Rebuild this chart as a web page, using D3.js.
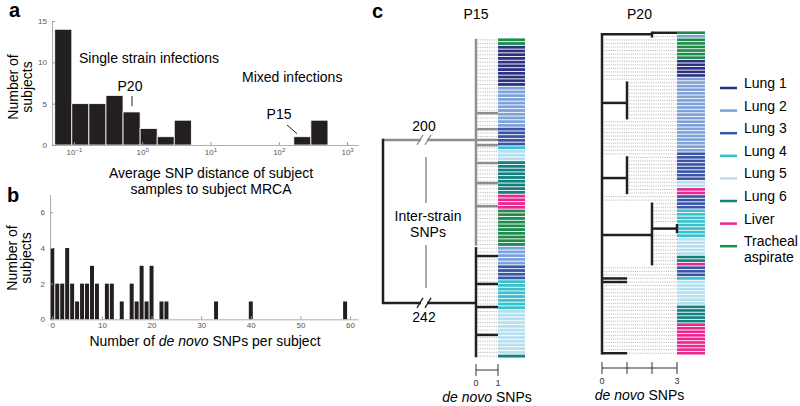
<!DOCTYPE html>
<html>
<head>
<meta charset="utf-8">
<script src="https://cdn.jsdelivr.net/npm/d3@7"></script>
<style>
  body { margin: 0; background: #fff; }
  svg text { font-family: "Liberation Sans", Arial, sans-serif; }
</style>
</head>
<body>
<svg id="fig" width="800" height="406"></svg>
<script>
// a: average SNP distance to MRCA (bins given as log10 lower edge, 0.25 decade wide)
const distBinStart = [-1.28, -1.03, -0.78, -0.53, -0.28, -0.03, 0.22, 0.47, 2.22, 2.47];
const distCounts = [14, 5, 5, 6, 4, 2, 1, 3, 1, 3];
const distTicks = [0.1, 1, 10, 100, 1000];
const p20Dist = 0.71;
const p15Dist = 185;

// b: de novo SNPs per subject
const snpValues = [0, 1, 2, 3, 4, 5, 6, 7, 8, 9, 11, 12, 14, 16, 17, 18, 19, 20, 22, 23, 33, 40, 59];
const snpCounts = [4, 2, 2, 4, 2, 1, 2, 2, 3, 2, 2, 2, 1, 2, 1, 3, 1, 3, 1, 1, 1, 1, 1];
const snpTicks = [0, 10, 20, 30, 40, 50, 60];

// c: tissues
const tissues = ['Lung 1', 'Lung 2', 'Lung 3', 'Lung 4', 'Lung 5', 'Lung 6', 'Liver', 'Tracheal aspirate'];
const tissueColors = ['#2e3180', '#7fa1da', '#3a55a8', '#38c0cc', '#b6e0ed', '#13807f', '#ec268f', '#1f8b4e'];

// P15 samples, run-length coded: tissue index and number of samples
const p15Tissue = [7, 0, 1, 2, 3, 4, 5, 6, 7, 1, 2, 3, 4, 5];
const p15Count = [2, 11, 11, 5, 1, 3, 9, 4, 10, 5, 4, 8, 12, 1];
const p15Strains = [[0, 55], [56, 85]];      // first and last sample row of each strain
const p15StrainSNPs = [200, 242];
const p15StrainJoin = [27.4, 71.2];
const p15Nodes = [[20.2, 24.5, 27.4, 28.8, 33.6, 39, 45.2], [58.6, 66.1, 72.3, 79.8]];

// P20 samples
const p20Tissue = [7, 1, 7, 0, 1, 2, 4, 6, 2, 3, 4, 5, 6, 2, 3, 4, 5, 6];
const p20Count = [1, 1, 6, 5, 21, 8, 2, 2, 4, 8, 5, 2, 1, 3, 1, 7, 5, 9];
const p20Clades = [[0, 1, 0.9, 2], [14, 24, 20.2, 1], [35, 45, 41.3, 1], [48, 65, 57.3, 2]]; // first, last, join, SNPs
const p20SubClades = [[54, 56, 3]];
const p20Singles = [[0, 3], [69, 1], [70, 1], [90, 1]]; // row, SNPs

const svg = d3.select('#fig');
const ink = '#231f20';
const grey = '#8e8e8e';

function styleAxis(g) {
  g.select('.domain').attr('stroke', '#9a9a9a').attr('stroke-width', 0.8);
  g.selectAll('.tick line').attr('stroke', '#9a9a9a');
  g.selectAll('.tick text').attr('fill', '#555').attr('font-size', 8)
    .attr('font-family', '"Liberation Sans", Arial, sans-serif');
}

// ---------- panel a
const xA = d3.scaleLog().domain([10 ** -1.32, 10 ** 3.16]).range([52, 358]);
const yA = d3.scaleLinear().domain([0, 15]).range([145, 21]);
const gA = svg.append('g');

gA.selectAll('rect').data(distBinStart).join('rect')
  .attr('x', d => xA(10 ** d))
  .attr('width', d => xA(10 ** (d + 0.25)) - xA(10 ** d))
  .attr('y', (d, i) => yA(distCounts[i]))
  .attr('height', (d, i) => yA(0) - yA(distCounts[i]))
  .attr('fill', ink).attr('stroke', '#fff').attr('stroke-width', 0.8);

const axA = gA.append('g').attr('transform', `translate(0,${yA(0)})`)
  .call(d3.axisBottom(xA).tickValues(distTicks).tickSize(-3).tickSizeOuter(0).tickPadding(4).tickFormat(() => ''));
styleAxis(axA);
axA.selectAll('.tick text').each(function (d) {
  const t = d3.select(this);
  t.append('tspan').text('10');
  t.append('tspan').attr('dy', '-0.45em').attr('font-size', 6)
    .text(String(Math.round(Math.log10(d))).replace('-', '\u2212'));
});
const ayA = gA.append('g').attr('transform', `translate(${xA.range()[0]},0)`)
  .call(d3.axisLeft(yA).tickValues([0, 5, 10, 15]).tickSize(-3).tickSizeOuter(0).tickPadding(5).tickFormat(d3.format('d')));
styleAxis(ayA);

gA.append('text').attr('x', 79).attr('y', 63).attr('font-size', 14).text('Single strain infections');
gA.append('text').attr('x', 242).attr('y', 82).attr('font-size', 14).text('Mixed infections');
gA.append('text').attr('x', xA(p20Dist) - 2).attr('y', 91).attr('text-anchor', 'middle').attr('font-size', 14).text('P20');
gA.append('line').attr('x1', xA(p20Dist)).attr('x2', xA(p20Dist)).attr('y1', 96).attr('y2', 106)
  .attr('stroke', ink).attr('stroke-width', 1);
gA.append('text').attr('x', xA(p15Dist) - 18).attr('y', 119).attr('text-anchor', 'middle').attr('font-size', 14).text('P15');
gA.append('line').attr('x1', xA(p15Dist) - 10).attr('x2', xA(p15Dist)).attr('y1', 125).attr('y2', yA(1) - 3)
  .attr('stroke', ink).attr('stroke-width', 1);

gA.append('text').attr('transform', 'translate(18,87) rotate(-90)').attr('text-anchor', 'middle')
  .attr('font-size', 14).text('Number of');
gA.append('text').attr('transform', 'translate(32,87) rotate(-90)').attr('text-anchor', 'middle')
  .attr('font-size', 14).text('subjects');
gA.append('text').attr('x', 211).attr('y', 178).attr('text-anchor', 'middle').attr('font-size', 14)
  .text('Average SNP distance of subject');
gA.append('text').attr('x', 211).attr('y', 194).attr('text-anchor', 'middle').attr('font-size', 14)
  .text('samples to subject MRCA');
svg.append('text').attr('x', 9).attr('y', 17).attr('font-size', 20).attr('font-weight', 'bold').text('a');

// ---------- panel b
const xB = d3.scaleLinear().domain([-0.46, 61.6]).range([50, 358]);
const yB = d3.scaleLinear().domain([0, 7]).range([319.3, 194.5]);
const gB = svg.append('g');
const bw = xB(0.4) - xB(0);

gB.selectAll('rect').data(snpValues).join('rect')
  .attr('x', d => xB(d) - bw).attr('width', 2 * bw)
  .attr('y', (d, i) => yB(snpCounts[i]))
  .attr('height', (d, i) => yB(0) - yB(snpCounts[i]))
  .attr('fill', ink);

const axB = gB.append('g').attr('transform', `translate(0,${yB(0)})`)
  .call(d3.axisBottom(xB).tickValues(snpTicks).tickSize(-3).tickSizeOuter(0).tickPadding(3).tickFormat(d3.format('d')));
styleAxis(axB);
const ayB = gB.append('g').attr('transform', `translate(${xB.range()[0]},0)`)
  .call(d3.axisLeft(yB).tickValues([0, 2, 4, 6]).tickSize(-3).tickSizeOuter(0).tickPadding(5).tickFormat(d3.format('d')));
styleAxis(ayB);

gB.append('text').attr('transform', 'translate(17,258) rotate(-90)').attr('text-anchor', 'middle')
  .attr('font-size', 14).text('Number of');
gB.append('text').attr('transform', 'translate(31,258) rotate(-90)').attr('text-anchor', 'middle')
  .attr('font-size', 14).text('subjects');
const xlabB = gB.append('text').attr('x', 205).attr('y', 346).attr('text-anchor', 'middle').attr('font-size', 14);
xlabB.append('tspan').text('Number of ');
xlabB.append('tspan').attr('font-style', 'italic').text('de novo');
xlabB.append('tspan').text(' SNPs per subject');
svg.append('text').attr('x', 7).attr('y', 202).attr('font-size', 20).attr('font-weight', 'bold').text('b');

// ---------- panel c
const gC = svg.append('g');
svg.append('text').attr('x', 372).attr('y', 18).attr('font-size', 20).attr('font-weight', 'bold').text('c');

function drawStrip(rows, y, x0, w) {
  gC.append('g').selectAll('rect').data(rows).join('rect')
    .attr('x', x0).attr('width', w)
    .attr('y', (d, i) => y(i) + 0.4)
    .attr('height', y(1) - y(0) - 0.9)
    .attr('fill', d => tissueColors[d]);
}
function dotted(x1, x2, y) {
  gC.append('line').attr('x1', x1).attr('x2', x2).attr('y1', y).attr('y2', y)
    .attr('stroke', '#a0a0a0').attr('stroke-width', 0.8).attr('stroke-dasharray', '1 1.2');
}
function seg(x1, y1, x2, y2, color, w) {
  gC.append('line').attr('x1', x1).attr('x2', x2).attr('y1', y1).attr('y2', y2)
    .attr('stroke', color).attr('stroke-width', w);
}
function scaleBar(x, ticks, labels, y) {
  seg(x(ticks[0]), y, x(ticks[ticks.length - 1]), y, '#333', 1);
  ticks.forEach(t => seg(x(t), y - 6, x(t), y + 6, '#333', 1));
  labels.forEach(t => gC.append('text').attr('x', x(t)).attr('y', y + 16).attr('text-anchor', 'middle')
    .attr('font-size', 9).attr('fill', '#333').text(t));
  const lab = gC.append('text').attr('x', (x(ticks[0]) + x(ticks[ticks.length - 1])) / 2)
    .attr('y', y + 32).attr('text-anchor', 'middle').attr('font-size', 14);
  lab.append('tspan').attr('font-style', 'italic').text('de novo');
  lab.append('tspan').text(' SNPs');
}

// P15
const p15Rows = p15Tissue.flatMap((t, i) => d3.range(p15Count[i]).map(() => t));
const yP15 = d3.scaleLinear().domain([0, p15Rows.length]).range([38, 358]);
const xP15 = d3.scaleLinear().domain([0, 1]).range([476, 498]);
const p15RootX = 383, p15BreakX = 424;
const strainColor = [grey, ink];

p15Rows.forEach((d, i) => dotted(xP15(0), xP15(1), yP15(i + 0.5)));
drawStrip(p15Rows, yP15, xP15(1), 27);

p15Strains.forEach(([a, b], s) => {
  seg(xP15(0), yP15(a + 0.2), xP15(0), yP15(b + 0.8), strainColor[s], 2.5);
  p15Nodes[s].forEach(r => seg(xP15(0), yP15(r), xP15(1), yP15(r), strainColor[s], 2.5));
  const yj = yP15(p15StrainJoin[s]);
  seg(p15RootX, yj, xP15(0), yj, strainColor[s], 2.5);
  gC.append('rect').attr('x', p15BreakX - 3).attr('y', yj - 3).attr('width', 6).attr('height', 6).attr('fill', '#fff');
  [-4, 4].forEach(dx => seg(p15BreakX + dx - 3, yj + 5, p15BreakX + dx + 3, yj - 5, strainColor[s], 1.3));
  gC.append('text').attr('x', p15BreakX).attr('y', s === 0 ? yj - 9 : yj + 19)
    .attr('text-anchor', 'middle').attr('font-size', 14).text(p15StrainSNPs[s]);
});
seg(p15RootX, yP15(p15StrainJoin[0]) - 1.2, p15RootX, yP15(p15StrainJoin[1]) + 1.2, ink, 2.5);

seg(p15BreakX + 2, yP15(p15StrainJoin[0]) + 17, p15BreakX + 2, 203, grey, 1.5);
seg(p15BreakX + 2, 245, p15BreakX + 2, yP15(p15StrainJoin[1]) - 15, grey, 1.5);
gC.append('text').attr('x', p15BreakX + 4).attr('y', 221).attr('text-anchor', 'middle').attr('font-size', 14).text('Inter-strain');
gC.append('text').attr('x', p15BreakX + 4).attr('y', 237).attr('text-anchor', 'middle').attr('font-size', 14).text('SNPs');
gC.append('text').attr('x', xP15(0)).attr('y', 19).attr('text-anchor', 'middle').attr('font-size', 14).text('P15');
scaleBar(xP15, [0, 1], [0, 1], 370);

// P20
const p20Rows = p20Tissue.flatMap((t, i) => d3.range(p20Count[i]).map(() => t));
const yP20 = d3.scaleLinear().domain([0, p20Rows.length]).range([31, 355]);
const xP20 = d3.scaleLinear().domain([0, 3]).range([602, 677]);
const rowY = i => yP20(i + 0.5);

p20Rows.forEach((d, i) => {
  const clade = p20Clades.find(c => i >= c[0] && i <= c[1]);
  const sub = p20SubClades.find(c => i >= c[0] && i <= c[1]);
  const single = p20Singles.find(c => c[0] === i);
  const start = clade ? clade[3] : 0;
  const tip = sub ? sub[2] : single ? single[1] : start;
  if (single) seg(xP20(start), rowY(i), xP20(tip), rowY(i), ink, 2.5);
  if (tip < 3) dotted(xP20(tip), xP20(3), rowY(i));
});
drawStrip(p20Rows, yP20, xP20(3), 28);

p20Clades.forEach(([a, b, j, s]) => {
  const y0 = Math.min(rowY(a), yP20(j)), y1 = Math.max(rowY(b), yP20(j));
  seg(xP20(s), y0 - 1.2, xP20(s), y1 + 1.2, ink, 2.5);
  seg(xP20(0), yP20(j), xP20(s), yP20(j), ink, 2.5);
});
p20SubClades.forEach(([a, b, s]) => {
  const parent = p20Clades.find(c => a >= c[0] && b <= c[1]);
  const ym = (rowY(a) + rowY(b)) / 2;
  seg(xP20(parent[3]), ym, xP20(s), ym, ink, 2.5);
  seg(xP20(s), rowY(a) - 1, xP20(s), rowY(b) + 1, ink, 2.5);
});
seg(xP20(0), yP20(p20Clades[0][2]) - 1.2, xP20(0), rowY(p20Rows.length - 1) + 1.2, ink, 2.5);

gC.append('text').attr('x', xP20(1.5)).attr('y', 19).attr('text-anchor', 'middle').attr('font-size', 14).text('P20');
scaleBar(xP20, [0, 1, 2, 3], [0, 3], 368);

// legend
const legY = d3.scaleLinear().domain([0, 1]).range([88, 110.6]);
const leg = gC.append('g').selectAll('g').data(tissues).join('g')
  .attr('transform', (d, i) => `translate(720,${legY(i)})`);
leg.append('line').attr('x2', 17).attr('stroke', (d, i) => tissueColors[i]).attr('stroke-width', 2.5);
leg.append('text').attr('x', 24).attr('dy', '0.35em').attr('font-size', 14)
  .each(function (d) {
    const words = d === 'Tracheal aspirate' ? ['Tracheal', 'aspirate'] : [d];
    words.forEach((w, k) => d3.select(this).append('tspan').attr('x', 24).attr('dy', k ? '1.15em' : 0).text(w));
  });
</script>
</body>
</html>
